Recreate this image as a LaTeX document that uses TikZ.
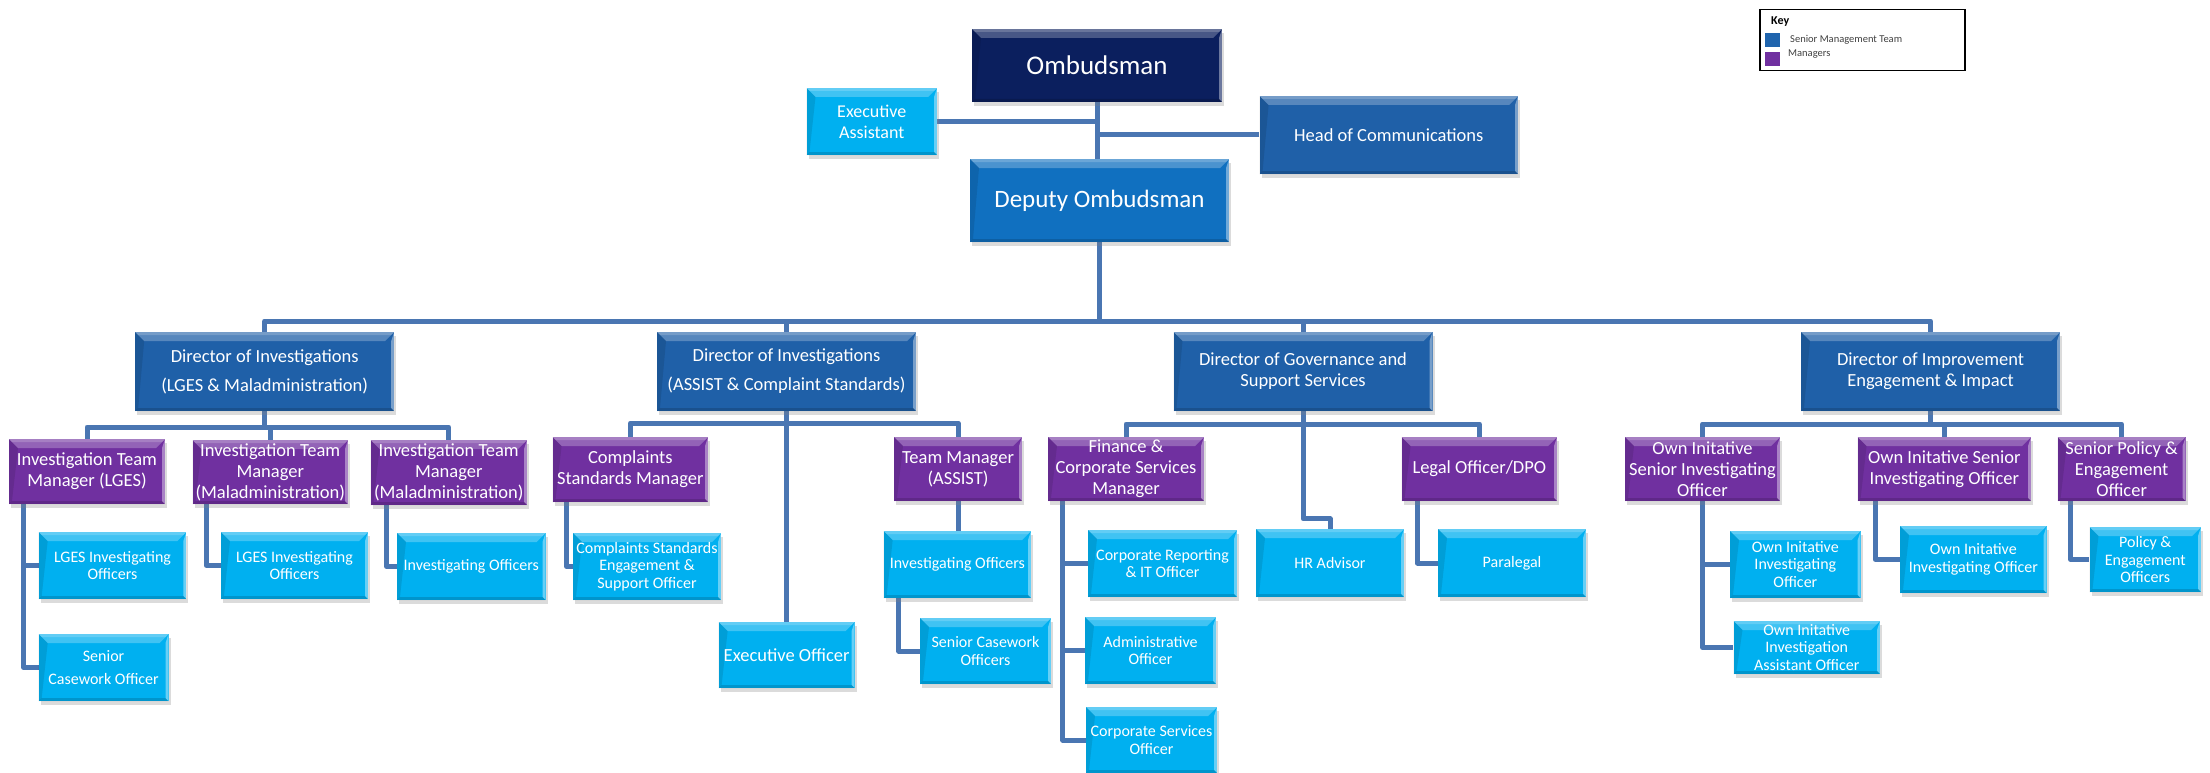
\documentclass[tikz,border=0pt]{standalone}
\usepackage{fontspec}
\setmainfont{Carlito}
\usetikzlibrary{shadows,calc,backgrounds}
\definecolor{navy}{HTML}{0B1F5E}
\definecolor{depblue}{HTML}{1070C0}
\definecolor{dirblue}{HTML}{1F60A8}
\definecolor{mgrpurple}{HTML}{7030A0}
\definecolor{staffcyan}{HTML}{00B0F0}
\definecolor{connblue}{HTML}{4A76B2}
\definecolor{keyblue}{HTML}{1F64AD}
\definecolor{keytext}{HTML}{404040}
\newcommand\szOmb{\fontsize{27}{30}\selectfont}
\newcommand\szDep{\fontsize{25}{28}\selectfont}
\newcommand\szMid{\fontsize{18.5}{21}\selectfont}
\newcommand\szSml{\fontsize{16}{17.5}\selectfont}
\newcommand\szKeyH{\fontsize{12}{14}\selectfont}
\newcommand\szKey{\fontsize{10.5}{12}\selectfont}
\tikzset{
  box/.style={rectangle, inner sep=0pt, text=white, align=center,
    drop shadow={opacity=0.28, shadow xshift=2pt, shadow yshift=-4pt},
    path picture={
      \path (path picture bounding box.north west) coordinate (pa)
            (path picture bounding box.north east) coordinate (pb)
            (path picture bounding box.south east) coordinate (pc)
            (path picture bounding box.south west) coordinate (pd);
      \fill[white,opacity=.25] (pa) -- (pb) -- ($(pb)+(-9pt,-9pt)$) -- ($(pa)+(9pt,-9pt)$) -- cycle;
      \fill[white,opacity=.18] (pa) -- (pb) -- ($(pb)+(-3pt,-3pt)$) -- ($(pa)+(3pt,-3pt)$) -- cycle;
      \fill[white,opacity=.40] (pb) -- (pc) -- ($(pc)+(-3pt,3pt)$) -- ($(pb)+(-3pt,-9pt)$) -- cycle;
      \fill[black,opacity=.10] (pa) -- (pd) -- ($(pd)+(3pt,3pt)$) -- ($(pa)+(9pt,-9pt)$) -- cycle;
      \fill[black,opacity=.15] (pd) -- (pc) -- ($(pc)+(-3pt,3pt)$) -- ($(pd)+(3pt,3pt)$) -- cycle;
    }},
  topbox/.style={box, fill=navy, font=\szOmb},
  depbox/.style={box, fill=depblue, font=\szDep},
  smtbox/.style={box, fill=dirblue, font=\szMid},
  mgrbox/.style={box, fill=mgrpurple, font=\szMid},
  staffbox/.style={box, fill=staffcyan, font=\szSml},
  conn/.style={draw=connblue, line width=5pt, line join=round},
}
\begin{document}
\begin{tikzpicture}[x=1pt, y=-1pt]
\useasboundingbox (0,0) rectangle (2210,773);

\coordinate (bus0) at (0,321);
\coordinate (bus1) at (0,427);
\coordinate (bus2) at (0,423);
\coordinate (bus3) at (0,424);
\coordinate (bus4) at (0,424);

% ---- nodes ----
\node[topbox, minimum width=250, minimum height=73] (omb) at (1097,65.5) {Ombudsman};
\node[box, fill=staffcyan, font=\fontsize{18}{20.7}\selectfont, minimum width=130.5, minimum height=67] (ea) at (871.75,121.5) {Executive\\Assistant};
\node[smtbox, minimum width=258.4, minimum height=78] (hoc) at (1388.8,135) {Head of Communications};
\node[depbox, minimum width=259, minimum height=83] (dep) at (1099.5,200.5) {Deputy Ombudsman};

\node[smtbox, minimum width=259, minimum height=79] (d1) at (264.7,371.5) {Director of Investigations\\[8pt](LGES \& Maladministration)};
\node[smtbox, minimum width=259, minimum height=79] (d2) at (786.5,371.5) {Director of Investigations\\[8pt](ASSIST \& Complaint Standards)};
\node[smtbox, minimum width=259, minimum height=79] (d3) at (1303,371.5) {Director of Governance and\\Support Services};
\node[smtbox, minimum width=259, minimum height=79] (d4) at (1930.5,371.5) {Director of Improvement\\Engagement \& Impact};

\node[mgrbox, minimum width=156, minimum height=65] (m11) at (87,471.5) {Investigation Team\\Manager (LGES)};
\node[mgrbox, minimum width=155.5, minimum height=64] (m12) at (270.25,472) {Investigation Team\\Manager\\(Maladministration)};
\node[mgrbox, minimum width=156.5, minimum height=65] (m13) at (448.75,472.5) {Investigation Team\\Manager\\(Maladministration)};
\node[mgrbox, minimum width=155.4, minimum height=65] (m21) at (630.3,469.5) {Complaints\\Standards Manager};
\node[mgrbox, minimum width=128, minimum height=64] (m22) at (958,469) {Team Manager\\(ASSIST)};
\node[mgrbox, minimum width=156, minimum height=64] (m31) at (1126,469) {Finance \&\\Corporate Services\\Manager};
\node[mgrbox, minimum width=155.4, minimum height=64] (m32) at (1479.3,469) {Legal Officer/DPO};
\node[mgrbox, minimum width=155, minimum height=64] (m41) at (1702.5,469) {Own Initative\\Senior Investigating\\Officer};
\node[mgrbox, minimum width=173.4, minimum height=64] (m42) at (1944.3,469) {Own Initative Senior\\Investigating Officer};
\node[mgrbox, minimum width=128, minimum height=64] (m43) at (2121.6,469) {Senior Policy \&\\Engagement\\Officer};

\node[staffbox, minimum width=147.7, minimum height=67] (c11) at (112.55,565.5) {LGES Investigating\\Officers};
\node[staffbox, minimum width=129.8, minimum height=67] (c12) at (103.6,667.5) {Senior\\[6pt]Casework Officer};
\node[staffbox, minimum width=147, minimum height=67] (c13) at (294.5,565.5) {LGES Investigating\\Officers};
\node[staffbox, minimum width=148.5, minimum height=67] (c14) at (471.25,566.5) {Investigating Officers};
\node[staffbox, minimum width=148, minimum height=67] (c21) at (647,566.5) {Complaints Standards\\Engagement \&\\Support Officer};
\node[staffbox, font=\szMid, minimum width=136, minimum height=66] (c22) at (786.65,655) {Executive Officer};
\node[staffbox, minimum width=147.3, minimum height=67] (c23) at (957.35,564.5) {Investigating Officers};
\node[staffbox, minimum width=131, minimum height=66] (c24) at (985.5,651) {Senior Casework\\Officers};
\node[staffbox, minimum width=149, minimum height=67] (c31) at (1162.5,563.5) {Corporate Reporting\\\& IT Officer};
\node[staffbox, minimum width=131, minimum height=67] (c32) at (1150.5,650.5) {Administrative\\Officer};
\node[staffbox, minimum width=131, minimum height=66] (c33) at (1151.5,740) {Corporate Services\\Officer};
\node[staffbox, minimum width=148, minimum height=68] (c34) at (1330,563) {HR Advisor};
\node[staffbox, minimum width=148, minimum height=68] (c35) at (1512,563) {Paralegal};
\node[staffbox, minimum width=130.7, minimum height=67] (c41) at (1795.35,564.5) {Own Initative\\Investigating\\Officer};
\node[staffbox, minimum width=146.5, minimum height=53] (c42) at (1806.75,647.5) {Own Initative\\Investigation\\Assistant Officer};
\node[staffbox, minimum width=146.7, minimum height=67] (c43) at (1973.35,559.5) {Own Initative\\Investigating Officer};
\node[staffbox, minimum width=111.5, minimum height=65] (c44) at (2145.25,559.5) {Policy \&\\Engagement\\Officers};

% ---- connectors behind the boxes ----
\begin{pgfonlayer}{background}
\fill[white] (0,0) rectangle (2210,773);
\draw[conn] (omb.south) -- (omb.south |- dep.north);
\draw[conn] (ea.east) -- (ea.east -| omb.south);
\draw[conn] (hoc.west) -- (hoc.west -| omb.south);
\draw[conn] (dep.south) -- (dep.south |- bus0);
\draw[conn] (d1.north) |- (d4.north |- bus0) -- (d4.north);
\draw[conn] (d2.north) -- (d2.north |- bus0);
\draw[conn] (d3.north) -- (d3.north |- bus0);

\draw[conn] (m11.north) |- (m13.north |- bus1) -- (m13.north);
\draw[conn] (d1.south) -- (d1.south |- bus1);
\draw[conn] (m12.north) -- (m12.north |- bus1);

\draw[conn] (m21.north) |- (m22.north |- bus2) -- (m22.north);
\draw[conn] (d2.south) -- (d2.south |- c22.north);

\draw[conn] (m31.north) |- (m32.north |- bus3) -- (m32.north);
\coordinate (hrj) at ($(c34.north)+(0,-10)$);
\draw[conn] (d3.south) |- (hrj) -- (c34.north);

\draw[conn] (m41.north) |- (m43.north |- bus4) -- (m43.north);
\draw[conn] (d4.south) -- (d4.south |- bus4);
\draw[conn] (m42.north) -- (m42.north |- bus4);

\coordinate (v11) at ([xshift=15pt]m11.south west);
\draw[conn] (v11) |- (c12.west);
\draw[conn] (v11 |- c11.west) -- (c11.west);
\coordinate (v12) at ([xshift=14pt]m12.south west);
\draw[conn] (v12) |- (c13.west);
\coordinate (v13) at ([xshift=16.5pt]m13.south west);
\draw[conn] (v13) |- (c14.west);
\coordinate (v21) at ([xshift=14.4pt]m21.south west);
\draw[conn] (v21) |- (c21.west);
\draw[conn] (m22.south) -- (m22.south |- c23.north);
\coordinate (v23) at ([xshift=15.3pt]c23.south west);
\draw[conn] (v23) |- (c24.west);
\coordinate (v31) at ([xshift=15pt]m31.south west);
\draw[conn] (v31) |- (c33.west);
\draw[conn] (v31 |- c31.west) -- (c31.west);
\draw[conn] (v31 |- c32.west) -- (c32.west);
\coordinate (v32) at ([xshift=16pt]m32.south west);
\draw[conn] (v32) |- (c35.west);
\draw[conn] (m41.south) |- (c42.west);
\draw[conn] (m41.south |- c41.west) -- (c41.west);
\coordinate (v42) at ([xshift=18pt]m42.south west);
\draw[conn] (v42) |- (c43.west);
\coordinate (v43) at ([xshift=13.4pt]m43.south west);
\draw[conn] (v43) |- (c44.west);
\end{pgfonlayer}

% ---- key ----
\node[draw=black, line width=1.2pt, minimum width=205, minimum height=61.4, inner sep=0pt] (key) at (1862.5,40) {};
\node[anchor=west, font=\szKeyH\bfseries, inner sep=0pt] (keyh) at (1771,22) {Key};
\node[fill=keyblue, minimum width=15, minimum height=14, inner sep=0pt] (ksq1) at (1772.5,39.7) {};
\node[anchor=west, font=\szKey, text=keytext, inner sep=0pt] (kt1) at (1790,39.3) {Senior Management Team};
\node[fill=mgrpurple, minimum width=15, minimum height=14, inner sep=0pt] (ksq2) at (1772.5,58.7) {};
\node[anchor=west, font=\szKey, text=keytext, inner sep=0pt] (kt2) at (1788,54.5) {Managers};
\end{tikzpicture}
\end{document}
